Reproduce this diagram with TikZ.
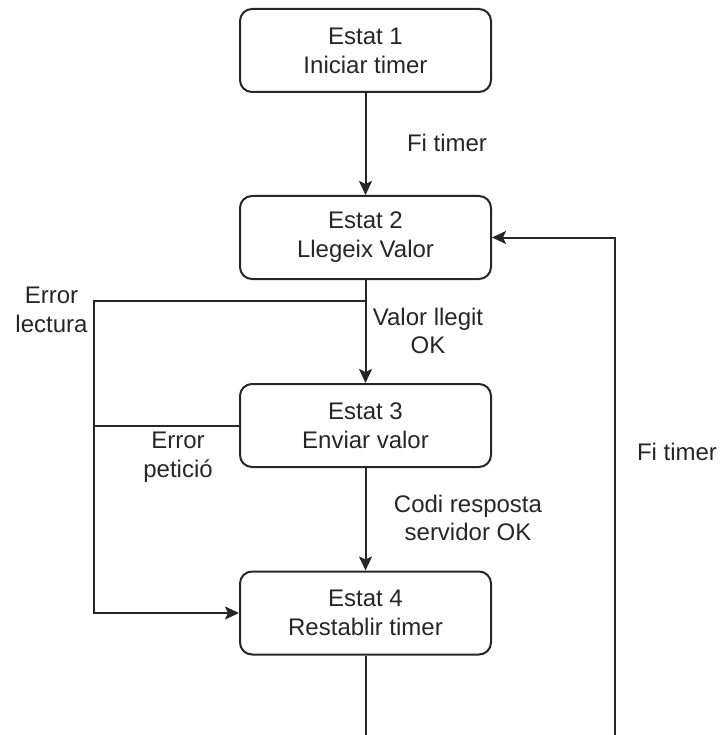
\documentclass[tikz,border=0pt]{standalone}
\usepackage{fontspec}
\setmainfont{Liberation Sans}
\usetikzlibrary{arrows.meta}
\begin{document}
\begin{tikzpicture}[x=1pt,y=-1pt,
  every node/.style={text=black!85,font=\fontsize{24}{28.8}\selectfont,align=center,inner sep=0pt},
  state/.style={draw=black!85,line width=2pt,rounded corners=12pt,minimum width=251pt,minimum height=83pt},
  flow/.style={draw=black!85,line width=2pt,-{Stealth[length=14pt,width=13pt,inset=3pt]}},
  plain/.style={draw=black!85,line width=2pt}]
\useasboundingbox (0,0) rectangle (721,735);

% states
\node[state] (s1) at (365.5,50.5) {Estat 1\\Iniciar timer};
\node[state] (s2) at (365.5,237.5) {Estat 2\\Llegeix Valor};
\node[state] (s3) at (365.5,425.5) {Estat 3\\Enviar valor};
\node[state] (s4) at (365.5,613) {Estat 4\\Restablir timer};

% auxiliary points of the routed connectors
\coordinate (r2) at (365.5,300.5);
\coordinate (cl) at (94,300.5);
\coordinate (bl) at (365.5,735);
\coordinate (br) at (615,735);

% main sequence
\draw[flow] (s1) -- (s2);
\draw[flow] (s2) -- (s3);
\draw[flow] (s3) -- (s4);

% error paths to state 4
\draw[flow] (r2) -- (cl) |- (s4.west);
\draw[plain] (s3.west) -- (94,425.5);

% loop back to state 2
\draw[plain] (s4) -- (bl);
\draw[flow] (br) |- (s2.east);

% labels
\node (l1) at (447,143) {Fi timer};
\node (l2) at (428,331) {Valor llegit\\OK};
\node (l3) at (51.5,310) {Error\\lectura};
\node (l4) at (178,457) {Error\\petició};
\node (l5) at (468,518) {Codi resposta\\servidor OK};
\node (l6) at (677,452) {Fi timer};
\end{tikzpicture}
\end{document}
